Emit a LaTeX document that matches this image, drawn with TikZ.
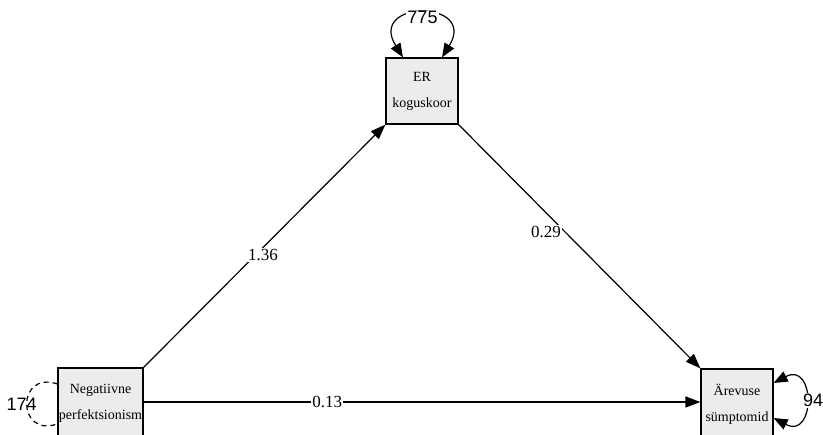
\documentclass[tikz,border=0pt]{standalone}
\usepackage{fontspec}
\setmainfont{Liberation Serif}
\newfontfamily\numfont{Liberation Sans}
\usetikzlibrary{arrows.meta}

\begin{document}
\begin{tikzpicture}[x = 1pt, y = -1pt, line width = 1.2pt,
    var/.style = {draw, fill = gray!15, minimum width = 72pt, minimum height = 66pt,
                  inner sep = 0pt, align = center, font = \fontsize{14}{26}\selectfont},
    coef/.style = {fill = white, inner sep = 1pt, font = \fontsize{17}{17}\selectfont},
    resid/.style = {inner sep = 1pt, font = \numfont\fontsize{18}{18}\selectfont},
    tip/.style = {-{Triangle[length = 15pt, width = 11pt]}},
    tips/.style = {{Triangle[length = 14pt, width = 11pt]}-{Triangle[length = 14pt, width = 11pt]}}]
    \useasboundingbox (0, 0) rectangle (823, 435);
    \clip (0, 0) rectangle (823, 435);

    % variables
    \node [var] (er) at (422, 91) {ER\\koguskoor};
    \node [var, minimum width = 85pt, minimum height = 70pt] (neg) at (100.5, 403) {Negatiivne\\perfektsionism};
    \node [var, minimum height = 70pt] (are) at (737, 404) {Ärevuse\\sümptomid};

    % paths
    \draw [tip] (neg.north east) -- node [coef, pos = 0.5, xshift = -1.5pt, yshift = -9pt] {1.36} (er.south west);
    \draw [tip] (er.south east) -- node [coef, pos = 0.37, xshift = -2pt, yshift = -17pt] {0.29} (are.north west);
    \draw [tip] (neg.east |- 0, 402) -- node [coef, pos = 0.33] {0.13} (are.west |- 0, 402);

    % residual variances
    \draw [tips] ([xshift = -19pt] er.north) .. controls +(-36, -58) and +(36, -58) ..
        node [resid, fill = white, pos = 0.5, yshift = -4pt] {775} ([xshift = 20pt] er.north);
    \draw [tips] ([yshift = 21pt] are.east) .. controls +(42, -22) and +(42, 22) ..
        node [resid, fill = white, pos = 0.5, xshift = 8pt] {94} ([yshift = -14pt] are.east);
    \draw [dash pattern = on 5pt off 4pt] ([yshift = 19pt] neg.west) .. controls +(-41, -14) and +(-41, 14) ..
        node [resid, pos = 0.5, xshift = -5pt] {174} ([yshift = -21pt] neg.west);
\end{tikzpicture}
\end{document}
